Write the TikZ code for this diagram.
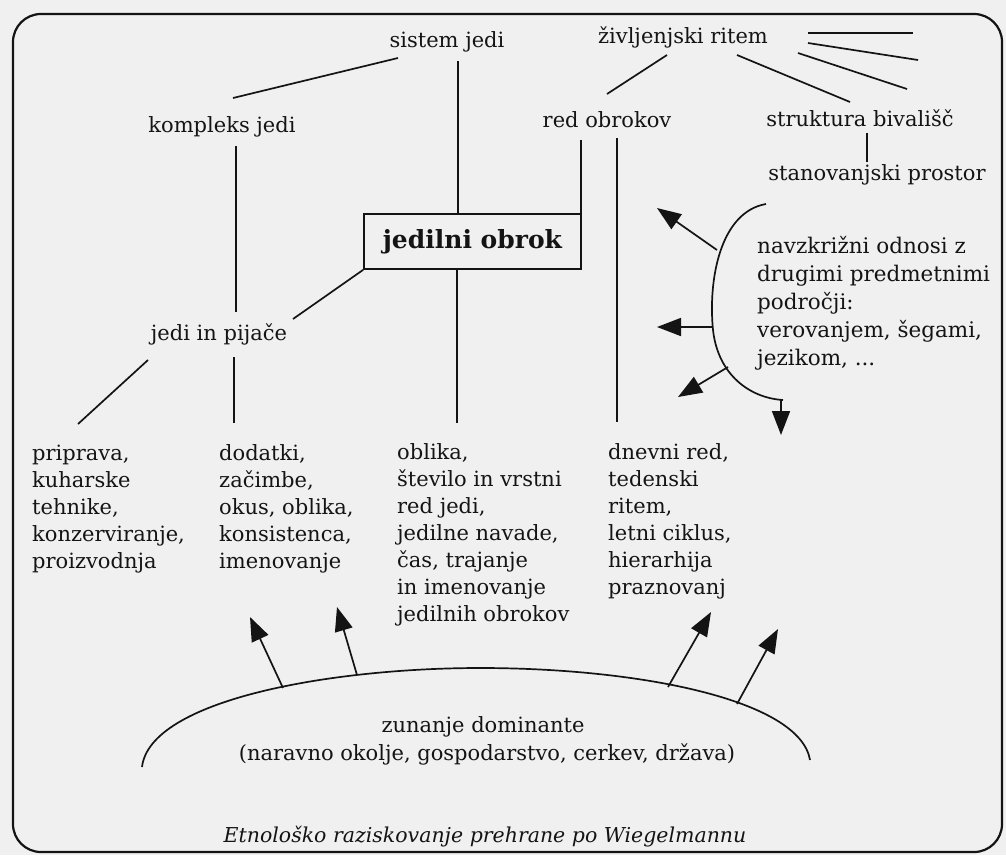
\documentclass[tikz,border=0pt]{standalone}
\usepackage{fontspec}
\setmainfont{DejaVu Serif}
\usetikzlibrary{arrows.meta}
\definecolor{paper}{RGB}{240,240,240}
\definecolor{ink}{RGB}{20,20,20}
\begin{document}
\begin{tikzpicture}[x=1pt,y=-1pt,
  lbl/.style={inner sep=0pt, font=\fontsize{21}{27}\selectfont, text=ink, anchor=base},
  blk/.style={lbl, align=left, anchor=base west},
  ln/.style={draw=ink, line width=1.7pt},
  arr/.style={ln, -{Triangle[length=24pt,width=18pt]}},
]
\fill[paper] (0,0) rectangle (1006,855);
\useasboundingbox (0,0) rectangle (1006,855);
\draw[ink, line width=2.2pt, rounded corners=28pt] (13,14) rectangle (1002,852);

% labels (multi-line blocks are anchored at the baseline of their last line)
\node[lbl] (sistem) at (447,47) {sistem jedi};
\node[lbl] (ritem) at (683,43) {življenjski ritem};
\node[lbl] (kompleks) at (222,132) {kompleks jedi};
\node[lbl] (red) at (607,127) {red obrokov};
\node[lbl] (struktura) at (860,126) {struktura bivališč};
\node[lbl] (prostor) at (877,180) {stanovanjski prostor};
\node[lbl] (pijace) at (219,340) {jedi in pijače};
\node[draw=ink, line width=1.7pt, minimum width=217pt, minimum height=55pt, inner sep=0pt,
      font=\fontsize{25}{28}\selectfont\bfseries, text=ink] (box) at (472.5,241.5) {jedilni obrok};
\node[blk, font=\fontsize{21.5}{28}\selectfont] (navz) at (757,365) {navzkrižni odnosi z\\drugimi predmetnimi\\področji:\\verovanjem, šegami,\\jezikom, ...};
\node[blk] (priprava) at (32,568) {priprava,\\kuharske\\tehnike,\\konzerviranje,\\proizvodnja};
\node[blk] (dodatki) at (219,568) {dodatki,\\začimbe,\\okus, oblika,\\konsistenca,\\imenovanje};
\node[blk] (oblika) at (397,621) {oblika,\\število in vrstni\\red jedi,\\jedilne navade,\\čas, trajanje\\in imenovanje\\jedilnih obrokov};
\node[blk] (dnevni) at (608,594) {dnevni red,\\tedenski\\ritem,\\letni ciklus,\\hierarhija\\praznovanj};
\node[lbl] (zunanje) at (483,732) {zunanje dominante};
\node[lbl] (naravno) at (487,760) {(naravno okolje, gospodarstvo, cerkev, država)};
\node[lbl, font=\fontsize{20.5}{27}\selectfont\itshape] (caption) at (485,842) {Etnološko raziskovanje prehrane po Wiegelmannu};

% connector end points
\coordinate (s1) at (398,58);   \coordinate (k1) at (233,98);
\coordinate (s2) at (458,61);   \coordinate (b1) at (458,214);
\coordinate (k2) at (236,146);  \coordinate (p1) at (236,312);
\coordinate (p2) at (293,319);
\coordinate (r1) at (581,140);
\coordinate (r2) at (617,138);  \coordinate (d1) at (617,422);
\coordinate (b2) at (457,269);  \coordinate (o1) at (457,423);
\coordinate (p3) at (148,360);  \coordinate (pr1) at (78,424);
\coordinate (p4) at (234,357);  \coordinate (do1) at (234,423);
\coordinate (t1) at (667,55);   \coordinate (r3) at (607,94);
\coordinate (t2) at (737,55);   \coordinate (st1) at (850,102);
\coordinate (t3a) at (808,33);  \coordinate (t3b) at (913,33);
\coordinate (t4a) at (808,43);  \coordinate (t4b) at (918,60);
\coordinate (t5a) at (798,53);  \coordinate (t5b) at (907,89);
\coordinate (st2) at (867,133); \coordinate (sp1) at (867,162);

\draw[ln] (s1) -- (k1);
\draw[ln] (s2) -- (b1);
\draw[ln] (k2) -- (p1);
\draw[ln] (box.south west) -- (p2);
\draw[ln] (r1) -- (r1 |- box.north);
\draw[ln] (r2) -- (d1);
\draw[ln] (b2) -- (o1);
\draw[ln] (p3) -- (pr1);
\draw[ln] (p4) -- (do1);
\draw[ln] (t1) -- (r3);
\draw[ln] (t2) -- (st1);
\draw[ln] (t3a) -- (t3b);
\draw[ln] (t4a) -- (t4b);
\draw[ln] (t5a) -- (t5b);
\draw[ln] (st2) -- (sp1);

% right arc with arrows
\coordinate (a0) at (766,204);
\coordinate (a1) at (713,330);
\coordinate (a2) at (783,400);
\draw[ln] (a0) .. controls (720,212) and (708,280) .. (a1) .. controls (718,375) and (750,398) .. (a2);
\coordinate (e1) at (717,250); \coordinate (h1) at (657,208);
\coordinate (e2) at (712,327); \coordinate (h2) at (657,327);
\coordinate (e3) at (728,367); \coordinate (h3) at (678,397);
\coordinate (e4) at (781,400); \coordinate (h4) at (781,435);
\draw[arr] (e1) -- (h1);
\draw[arr] (e2) -- (h2);
\draw[arr] (e3) -- (h3);
\draw[arr] (e4) -- (h4);

% bottom arc with arrows
\coordinate (c0) at (142,767);
\coordinate (c1) at (480,668);
\coordinate (c2) at (810,760);
\draw[ln] (c0) .. controls (150,700) and (330,668) .. (c1) .. controls (640,668) and (800,700) .. (c2);
\coordinate (f1) at (283,688); \coordinate (g1) at (250,617);
\coordinate (f2) at (357,675); \coordinate (g2) at (337,607);
\coordinate (f3) at (668,687); \coordinate (g3) at (711,612);
\coordinate (f4) at (737,704); \coordinate (g4) at (778,629);
\draw[arr] (f1) -- (g1);
\draw[arr] (f2) -- (g2);
\draw[arr] (f3) -- (g3);
\draw[arr] (f4) -- (g4);
\end{tikzpicture}
\end{document}
